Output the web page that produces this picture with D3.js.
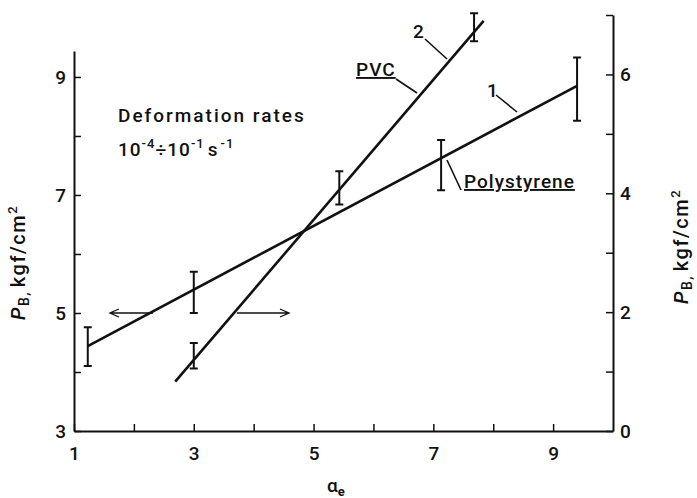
<!DOCTYPE html>
<html>
<head>
<meta charset="utf-8">
<script src="https://cdn.jsdelivr.net/npm/d3@7"></script>
<style>
  body { margin: 0; background: #fff; }
  svg text { font-family: Roboto, "Liberation Sans", sans-serif; fill: #111; }
</style>
</head>
<body>
<script>
'use strict';

// x ticks and labels
const xTicks = [1, 2, 3, 4, 5, 6, 7, 8, 9];
const xLabels = [1, 3, 5, 7, 9];
// left axis (polystyrene) ticks
const leftTicks = [3, 4, 5, 6, 7, 8, 9];
const leftLabels = [3, 5, 7, 9];
// right axis (PVC) ticks
const rightTicks = [0, 1, 2, 3, 4, 5, 6, 7];
const rightLabels = [0, 2, 4, 6];

// curve 1 - polystyrene (left axis)
const psLineX = [1.23, 9.40];
const psLineY = [4.44, 8.85];
const psBarX = [1.23, 3.0, 7.13, 9.40];
const psBarLow = [4.10, 5.00, 7.08, 8.26];
const psBarHigh = [4.76, 5.70, 7.93, 9.33];

// curve 2 - PVC (right axis)
const pvcLineX = [2.69, 7.84];
const pvcLineY = [0.83, 6.90];
const pvcBarX = [3.0, 5.43, 7.68];
const pvcBarLow = [1.05, 3.81, 6.56];
const pvcBarHigh = [1.48, 4.37, 7.03];

(function () {
  let svg = d3.select('body')
    .append('svg')
    .attr('width', 697)
    .attr('height', 498);

  // scales
  let x = d3.scaleLinear().domain([1, 10]).range([74, 613]);
  let yL = d3.scaleLinear().domain([3, 9.44]).range([431, 51]);
  let yR = d3.scaleLinear().domain([0, 7]).range([431, 15]);

  let fmt = (list) => (d) => list.includes(d) ? d : '';

  // axes, ticks pointing inwards
  let xAxis = d3.axisBottom(x).tickValues(xTicks).tickFormat(fmt(xLabels))
    .tickSizeInner(-7).tickSizeOuter(0).tickPadding(16);
  let gx = svg.append('g').attr('transform', 'translate(0,431)').call(xAxis);

  let leftAxis = d3.axisLeft(yL).tickValues(leftTicks).tickFormat(fmt(leftLabels))
    .tickSizeInner(-7).tickSizeOuter(0).tickPadding(8);
  let gl = svg.append('g').attr('transform', 'translate(74,0)').call(leftAxis);

  let rightAxis = d3.axisRight(yR).tickValues(rightTicks).tickFormat(fmt(rightLabels))
    .tickSizeInner(-7).tickSizeOuter(0).tickPadding(7);
  let gr = svg.append('g').attr('transform', 'translate(613,0)').call(rightAxis);

  [gx, gl, gr].forEach((g) => {
    g.select('.domain').attr('stroke', '#111').attr('stroke-width', 2);
    g.selectAll('.tick line').attr('stroke', '#111').attr('stroke-width', 1.5);
    g.selectAll('.tick text')
      .style('font-size', '19px')
      .style('font-weight', 500)
      .attr('fill', '#111');
  });

  // data lines
  let line = d3.line();
  svg.append('path')
    .attr('d', line(psLineX.map((v, i) => [x(v), yL(psLineY[i])])))
    .attr('stroke', '#111').attr('stroke-width', 2.6).attr('fill', 'none');
  svg.append('path')
    .attr('d', line(pvcLineX.map((v, i) => [x(v), yR(pvcLineY[i])])))
    .attr('stroke', '#111').attr('stroke-width', 2.6).attr('fill', 'none');

  // error bars
  function errorBars(xs, lows, highs, yScale) {
    let g = svg.append('g')
      .attr('stroke', '#111').attr('stroke-width', 2).attr('fill', 'none');
    xs.forEach((v, i) => {
      let cx = x(v);
      let y1 = yScale(lows[i]);
      let y2 = yScale(highs[i]);
      g.append('path')
        .attr('d', `M${cx},${y1}V${y2}M${cx - 4},${y1}H${cx + 4}M${cx - 4},${y2}H${cx + 4}`);
    });
  }
  errorBars(psBarX, psBarLow, psBarHigh, yL);
  errorBars(pvcBarX, pvcBarLow, pvcBarHigh, yR);

  // arrows pointing to the axis each curve uses
  function arrow(x1, x2, yv) {
    let px1 = x(x1), px2 = x(x2), py = yL(yv);
    let dir = px2 > px1 ? 1 : -1;
    svg.append('path')
      .attr('d', `M${px1},${py}H${px2}M${px2 - dir * 9},${py - 4}L${px2},${py}L${px2 - dir * 9},${py + 4}`)
      .attr('stroke', '#111').attr('stroke-width', 1.3).attr('fill', 'none');
  }
  arrow(2.32, 1.60, 5.0);
  arrow(3.72, 4.59, 5.0);

  // leader lines for annotations
  let leaders = [
    [425, 39, 447, 59],
    [396, 79, 417, 93],
    [496, 95, 517, 112],
    [447, 160, 461, 190]
  ];
  leaders.forEach((l) => {
    svg.append('line')
      .attr('x1', l[0]).attr('y1', l[1]).attr('x2', l[2]).attr('y2', l[3])
      .attr('stroke', '#111').attr('stroke-width', 1.6);
  });

  // annotation texts
  function label(tx, ty, text, underline) {
    return svg.append('text')
      .attr('x', tx).attr('y', ty)
      .style('font-size', '19px')
      .style('font-weight', 500)
      .style('letter-spacing', '1px')
      .style('text-decoration', underline ? 'underline' : 'none')
      .text(text);
  }
  label(413, 38, '2');
  label(487, 97, '1');
  label(356, 76, 'PVC', true);
  label(464, 188, 'Polystyrene', true);
  label(118, 122, 'Deformation rates').style('letter-spacing', '2px');

  let rates = svg.append('text')
    .attr('x', 118).attr('y', 156)
    .style('font-size', '19px')
    .style('font-weight', 500)
    .style('letter-spacing', '1px');
  rates.append('tspan').text('10');
  rates.append('tspan').attr('dy', -8).style('font-size', '13px').text('-4');
  rates.append('tspan').attr('dy', 8).text('÷10');
  rates.append('tspan').attr('dy', -8).style('font-size', '13px').text('-1');
  rates.append('tspan').attr('dy', 8).attr('dx', 3).text('s');
  rates.append('tspan').attr('dy', -8).attr('dx', 2).style('font-size', '13px').text('-1');

  // axis titles
  function yTitle(tx, ty) {
    let t = svg.append('text')
      .attr('transform', `translate(${tx},${ty})rotate(-90)`)
      .style('font-size', '20px')
      .style('font-weight', 500)
      .style('letter-spacing', '1.5px');
    t.append('tspan').style('font-style', 'italic').text('P');
    t.append('tspan').attr('dy', 4).style('font-size', '14px').text('B,');
    t.append('tspan').attr('dy', -4).attr('dx', 4).text('kgf/cm');
    t.append('tspan').attr('dy', -8).style('font-size', '13px').text('2');
  }
  yTitle(25, 320);
  yTitle(688, 304);

  let xt = svg.append('text')
    .attr('x', 327).attr('y', 492)
    .style('font-size', '19px')
    .style('font-weight', 500);
  xt.append('tspan').text('α');
  xt.append('tspan').attr('dy', 4).style('font-size', '13px').style('font-weight', 700).text('e');
})();
</script>
</body>
</html>
